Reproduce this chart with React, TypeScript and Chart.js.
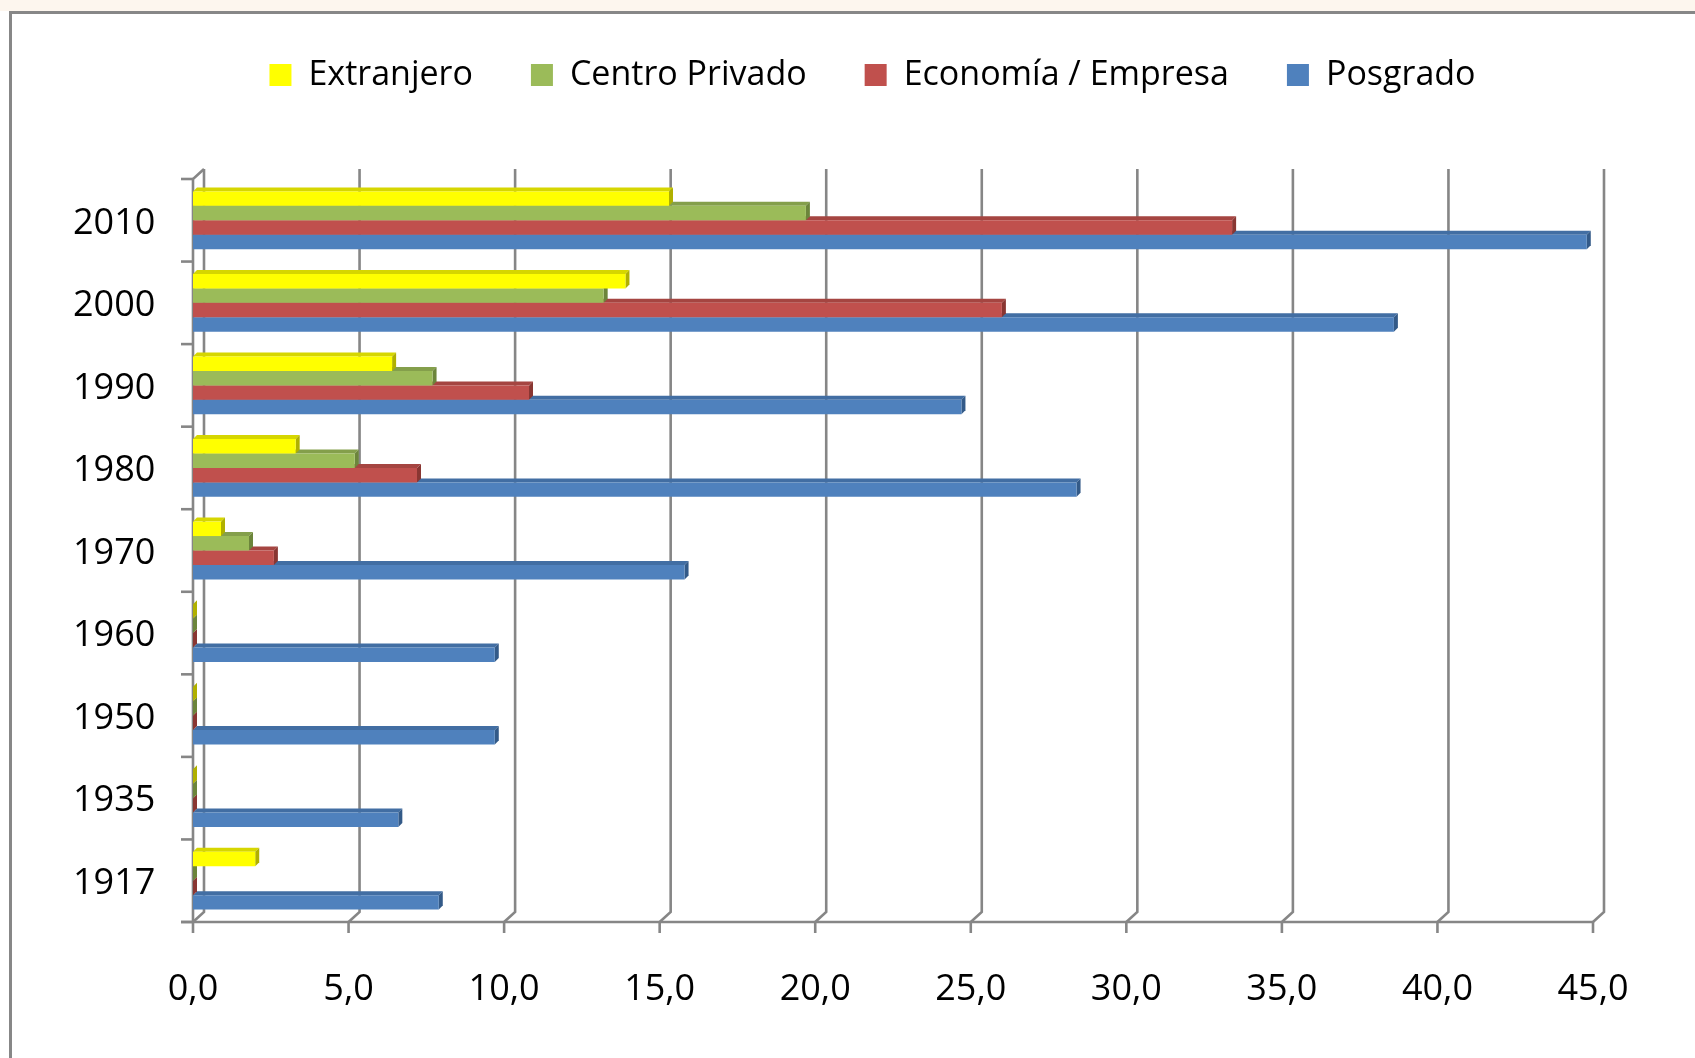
import React, { useEffect, useRef } from 'react';
import { Chart, registerables } from 'chart.js';

Chart.register(...registerables);

// ---- data ----
const categories = ['2010', '2000', '1990', '1980', '1970', '1960', '1950', '1935', '1917'];
const extranjero = [15.3, 13.9, 6.4, 3.3, 0.9, 0, 0, 0, 2.0];
const centroPrivado = [19.7, 13.2, 7.7, 5.2, 1.8, 0, 0, 0, 0];
const economiaEmpresa = [33.4, 26.0, 10.8, 7.2, 2.6, 0, 0, 0, 0];
const posgrado = [44.8, 38.6, 24.7, 28.4, 15.8, 9.7, 9.7, 6.6, 7.9];
const seriesNames = ['Extranjero', 'Centro Privado', 'Economía / Empresa', 'Posgrado'];
const seriesValues = [extranjero, centroPrivado, economiaEmpresa, posgrado];
const seriesColors = ['#FFFF00', '#9BBB59', '#C0504D', '#4F81BD'];
const topColors = ['#D6D600', '#849F4B', '#A54541', '#426EA3'];
const sideColors = ['#B0B000', '#6C853B', '#893632', '#335A88'];
const xMin = 0;
const xMax = 45;
const xStep = 5;

// ---- layout constants ----
const W = 1695;
const H = 1058;
const FONT = 'Open Sans';
const OX = 11;
const OY = -10;
const D = 4;
const LINE = '#868686';
const PAD_LEFT = 152;
const AREA_LEFT = 193;

const excel3d = {
  id: 'excel3d',
  beforeDraw(chart: any) {
    const { ctx, width, height } = chart;
    ctx.save();
    ctx.fillStyle = '#ffffff';
    ctx.fillRect(0, 0, width, height);
    ctx.fillStyle = '#fdf6ee';
    ctx.fillRect(0, 0, width, 11);
    ctx.strokeStyle = '#878787';
    ctx.lineWidth = 3;
    ctx.beginPath();
    ctx.moveTo(10.5, height);
    ctx.lineTo(10.5, 12.5);
    ctx.lineTo(width, 12.5);
    ctx.stroke();
    ctx.restore();
  },
  beforeDatasetsDraw(chart: any) {
    const { ctx, chartArea, scales } = chart;
    const { left, right, top, bottom } = chartArea;
    const xs = scales.x;
    ctx.save();
    ctx.strokeStyle = LINE;
    ctx.lineWidth = 2.6;
    ctx.lineCap = 'butt';
    // back wall vertical grid lines + floor connectors
    for (const t of xs.ticks) {
      const px = xs.getPixelForValue(t.value);
      ctx.beginPath();
      ctx.moveTo(px, bottom);
      ctx.lineTo(px + OX, bottom + OY);
      ctx.lineTo(px + OX, top + OY);
      ctx.stroke();
      ctx.beginPath();
      ctx.moveTo(px, bottom);
      ctx.lineTo(px, bottom + 11);
      ctx.stroke();
    }
    // front left axis
    ctx.beginPath();
    ctx.moveTo(left + OX, top + OY);
    ctx.lineTo(left, top);
    ctx.lineTo(left, bottom);
    ctx.stroke();
    // front bottom axis
    ctx.beginPath();
    ctx.moveTo(left - 12, bottom);
    ctx.lineTo(right, bottom);
    ctx.stroke();
    // category tick marks
    const n = categories.length;
    for (let k = 0; k <= n; k++) {
      const yk = top + (k * (bottom - top)) / n;
      ctx.beginPath();
      ctx.moveTo(left - 12, yk);
      ctx.lineTo(left, yk);
      ctx.stroke();
    }
    // 3D faces of bars (lower series first so upper series sit in front)
    const nd = chart.data.datasets.length;
    for (let di = nd - 1; di >= 0; di--) {
      const meta = chart.getDatasetMeta(di);
      meta.data.forEach((el: any) => {
        const p = el.getProps(['x', 'y', 'base', 'height'], true);
        const t = p.y - p.height / 2;
        const b = p.y + p.height / 2;
        ctx.fillStyle = topColors[di];
        ctx.beginPath();
        ctx.moveTo(p.base, t);
        ctx.lineTo(p.x, t);
        ctx.lineTo(p.x + D, t - D);
        ctx.lineTo(p.base + D, t - D);
        ctx.closePath();
        ctx.fill();
        ctx.fillStyle = sideColors[di];
        ctx.beginPath();
        ctx.moveTo(p.x, t);
        ctx.lineTo(p.x + D, t - D);
        ctx.lineTo(p.x + D, b - D);
        ctx.lineTo(p.x, b);
        ctx.closePath();
        ctx.fill();
      });
    }
    ctx.restore();
  },
};

export default function App() {
  const canvasRef = useRef<HTMLCanvasElement | null>(null);

  useEffect(() => {
    const canvas = canvasRef.current;
    if (!canvas) return;
    const chart = new Chart(canvas, {
      type: 'bar',
      data: {
        labels: categories,
        datasets: seriesNames.map((name, i) => ({
          label: name,
          data: seriesValues[i],
          backgroundColor: seriesColors[i],
          borderWidth: 0,
          categoryPercentage: 0.7,
          barPercentage: 1.0,
        })),
      },
      options: {
        indexAxis: 'y',
        responsive: false,
        maintainAspectRatio: false,
        animation: false,
        devicePixelRatio: 1,
        events: [],
        layout: { padding: { left: PAD_LEFT, right: 102, top: 0, bottom: 0 } },
        plugins: {
          tooltip: { enabled: false },
          legend: {
            display: true,
            position: 'top',
            align: 'center',
            labels: {
              color: '#000000',
              font: { family: FONT, size: 34 },
              boxWidth: 22,
              boxHeight: 22,
              padding: 58,
            },
          },
          title: {
            display: true,
            text: '',
            weight: 500,
            font: { size: 10, lineHeight: 1 },
            padding: { top: 0, bottom: 67 },
          },
        },
        scales: {
          x: {
            type: 'linear',
            position: 'bottom',
            min: xMin,
            max: xMax,
            grid: { display: false },
            border: { display: false },
            ticks: {
              stepSize: xStep,
              color: '#000000',
              font: { family: FONT, size: 36 },
              padding: 38,
              maxRotation: 0,
              callback: (v: any) => Number(v).toFixed(1).replace('.', ','),
            },
            afterFit: (scale: any) => {
              scale.height = H - 922;
            },
          },
          y: {
            type: 'category',
            position: 'left',
            grid: { display: false },
            border: { display: false },
            ticks: {
              color: '#000000',
              font: { family: FONT, size: 36 },
              mirror: true,
              crossAlign: 'near',
              labelOffset: 3,
              padding: -(AREA_LEFT - 73),
            },
            afterFit: (scale: any) => {
              scale.width = AREA_LEFT - PAD_LEFT;
            },
          },
        },
      },
      plugins: [excel3d],
    } as any);
    return () => chart.destroy();
  }, []);

  return (
    <div style={{ position: 'absolute', left: 0, top: 0, width: W, height: H, overflow: 'hidden', background: '#fff' }}>
      <canvas ref={canvasRef} width={W} height={H} style={{ display: 'block', width: W, height: H }} />
    </div>
  );
}
